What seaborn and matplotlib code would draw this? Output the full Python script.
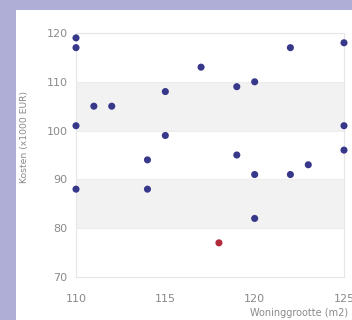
import matplotlib
matplotlib.use("Agg")
import matplotlib.pyplot as plt
import seaborn as sns
import pandas as pd
from matplotlib.patches import Rectangle

size_m2 = [110, 110, 111, 112, 110, 110, 114, 114, 115, 115, 117, 119, 120, 119, 120, 120, 122, 122, 123, 125, 125, 125, 118]
cost_k = [119, 117, 105, 105, 101, 88, 94, 88, 108, 99, 113, 109, 110, 95, 91, 82, 117, 91, 93, 118, 101, 96, 77]
group = ["normal"] * 22 + ["outlier"]
x_ticks = [110, 115, 120, 125]
y_ticks = [70, 80, 90, 100, 110, 120]
bands = [(80, 90), (100, 110)]

df = pd.DataFrame({"size": size_m2, "cost": cost_k, "group": group})

sns.set_style("white")
plt.rcParams['font.family'] = ['DejaVu Sans']

W, H = 352, 320
fig = plt.figure(figsize=(W / 100, H / 100), dpi=100)
fig.patch.set_facecolor("#aeaed6")
fig.patches.append(Rectangle((16 / W, 0), 1, 1 - 10 / H, transform=fig.transFigure,
                             facecolor="white", edgecolor="none", zorder=-5))

ax = fig.add_axes([76 / W, (H - 277) / H, 268 / W, 244 / H])
ax.set_zorder(2)
ax.set_facecolor("white")
for lo, hi in bands:
    ax.axhspan(lo, hi, color="#f2f2f2", zorder=0, lw=0)
for t in y_ticks:
    ax.axhline(t, color="#ededed", lw=0.8, zorder=0.5)

sns.scatterplot(data=df, x="size", y="cost", hue="group",
                palette={"normal": "#38388a", "outlier": "#b02a3a"},
                s=26, edgecolor="none", legend=False, ax=ax, zorder=3, clip_on=False)

ax.set_xlim(110, 125)
ax.set_ylim(70, 120)
ax.set_xticks(x_ticks)
ax.set_yticks(y_ticks)
ax.tick_params(axis="both", length=0, labelsize=8, labelcolor="#8a8a8a")
ax.tick_params(axis="x", pad=12)
ax.tick_params(axis="y", pad=6)
for s in ax.spines.values():
    s.set_color("#e6e6e6")
    s.set_linewidth(0.8)
ax.set_xlabel("")
ax.set_ylabel("")
fig.text(25 / W, 1 - 137 / H, "Kosten (x1000 EUR)", rotation=90, ha="center", va="center",
         fontsize=6.7, color="#8a8a8a")
fig.text(348 / W, 1 - 313 / H, "Woninggrootte (m2)", ha="right", va="center",
         fontsize=7, color="#8a8a8a")

fig.savefig("out.png", dpi=100, facecolor=fig.get_facecolor())
